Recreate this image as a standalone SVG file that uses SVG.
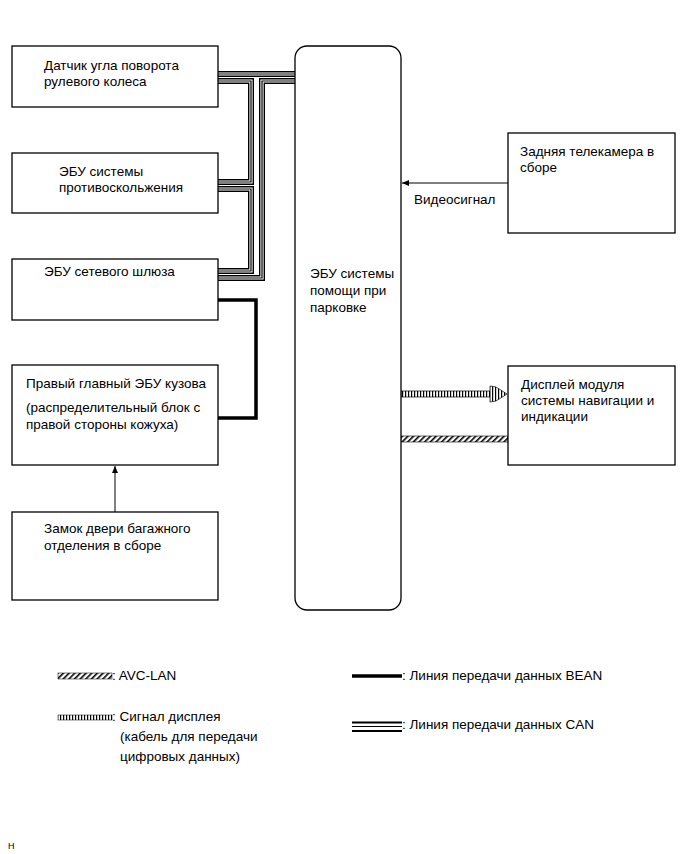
<svg xmlns="http://www.w3.org/2000/svg" width="690" height="854" viewBox="0 0 690 854">
<style>
text{font-family:"Liberation Sans",Arial,sans-serif;font-size:13.5px;fill:#000}
.box{fill:#fff;stroke:#000;stroke-width:1.3}
.canA{fill:none;stroke:#000;stroke-width:6}
.canB{fill:none;stroke:#fff;stroke-width:3.2}
.canC{fill:none;stroke:#000;stroke-width:1.2}
.bean{fill:none;stroke:#000;stroke-width:3.5}
.arr{fill:none;stroke:#000;stroke-width:1}
</style>
<defs>
<marker id="ah" markerWidth="8" markerHeight="8" refX="7" refY="4" orient="auto" markerUnits="userSpaceOnUse"><path d="M0,1 L7,4 L0,7 Z" fill="#000"/></marker>
<pattern id="ribs" width="3" height="10" patternUnits="userSpaceOnUse"><rect width="3" height="10" fill="#fff"/><rect width="1.2" height="10" fill="#000"/></pattern>
<pattern id="hatch" width="4" height="4" patternUnits="userSpaceOnUse" patternTransform="rotate(45)"><rect width="4" height="4" fill="#fff"/><rect width="1.6" height="4" fill="#000"/></pattern>
<path id="p0" d="M218,74 H295"/>
<path id="p1" d="M218,81 H251 V182 H218"/>
<path id="p2" d="M295,81 H262 V278 H218"/>
<path id="p3" d="M218,189 H251 V271 H218"/>
</defs>

<g id="connectors">
<use href="#p0" class="canA"/><use href="#p1" class="canA"/><use href="#p2" class="canA"/><use href="#p3" class="canA"/>
<use href="#p0" class="canB"/><use href="#p1" class="canB"/><use href="#p2" class="canB"/><use href="#p3" class="canB"/>
<use href="#p0" class="canC"/><use href="#p1" class="canC"/><use href="#p2" class="canC"/><use href="#p3" class="canC"/>
<path class="bean" d="M218,300 H256 V418 H218"/>
<line class="arr" x1="115" y1="512" x2="115" y2="466" marker-end="url(#ah)"/>
<line class="arr" x1="508" y1="183" x2="402" y2="183" marker-end="url(#ah)"/>
<text x="414" y="204">Видеосигнал</text>
<rect x="401" y="391" width="90" height="6" fill="url(#ribs)" stroke="#000" stroke-width="0.7"/>
<polygon points="490,386 496,387 507,394 496,401 490,402" fill="url(#ribs)" stroke="#000" stroke-width="0.7"/>
<rect x="401" y="436" width="107" height="6" fill="url(#hatch)" stroke="#000" stroke-width="0.6"/>
</g>

<g id="n1"><rect class="box" x="12" y="46" width="206" height="61"/><text x="44" y="70">Датчик угла поворота</text><text x="44" y="86">рулевого колеса</text></g>
<g id="n2"><rect class="box" x="12" y="153" width="206" height="60"/><text x="59" y="176">ЭБУ системы</text><text x="59" y="192">противоскольжения</text></g>
<g id="n3"><rect class="box" x="12" y="259" width="206" height="61"/><text x="44" y="276">ЭБУ сетевого шлюза</text></g>
<g id="n4"><rect class="box" x="12" y="365" width="206" height="100"/><text x="26" y="388">Правый главный ЭБУ кузова</text><text x="26" y="412">(распределительный блок с</text><text x="26" y="429">правой стороны кожуха)</text></g>
<g id="n5"><rect class="box" x="12" y="512" width="206" height="88"/><text x="44" y="533">Замок двери багажного</text><text x="44" y="550">отделения в сборе</text></g>
<g id="ecu"><rect class="box" x="295" y="46" width="106" height="564" rx="12"/><text x="310" y="278">ЭБУ системы</text><text x="310" y="295">помощи при</text><text x="310" y="312">парковке</text></g>
<g id="cam"><rect class="box" x="508" y="133" width="167" height="100"/><text x="520" y="156">Задняя телекамера в</text><text x="520" y="172">сборе</text></g>
<g id="disp"><rect class="box" x="508" y="366" width="167" height="99"/><text x="521" y="389">Дисплей модуля</text><text x="521" y="405">системы навигации и</text><text x="521" y="421">индикации</text></g>

<g id="legend">
<rect x="58" y="673" width="54" height="6" fill="url(#hatch)" stroke="#000" stroke-width="0.5"/>
<text x="112" y="680">: AVC-LAN</text>
<rect x="58" y="715" width="54" height="5" fill="url(#ribs)" stroke="#000" stroke-width="0.5"/>
<text x="112" y="721">: Сигнал дисплея</text>
<text x="120" y="741">(кабель для передачи</text>
<text x="120" y="761">цифровых данных)</text>
<line class="bean" x1="352" y1="676" x2="402" y2="676"/>
<text x="402" y="680">: Линия передачи данных BEAN</text>
<line x1="352" y1="722.5" x2="402" y2="722.5" stroke="#000" stroke-width="2"/>
<line x1="352" y1="726.5" x2="402" y2="726.5" stroke="#000" stroke-width="1.2"/>
<line x1="352" y1="731" x2="402" y2="731" stroke="#000" stroke-width="2"/>
<text x="402" y="729">: Линия передачи данных CAN</text>
<text x="8" y="849" style="font-size:9px">H</text>
</g>
</svg>
